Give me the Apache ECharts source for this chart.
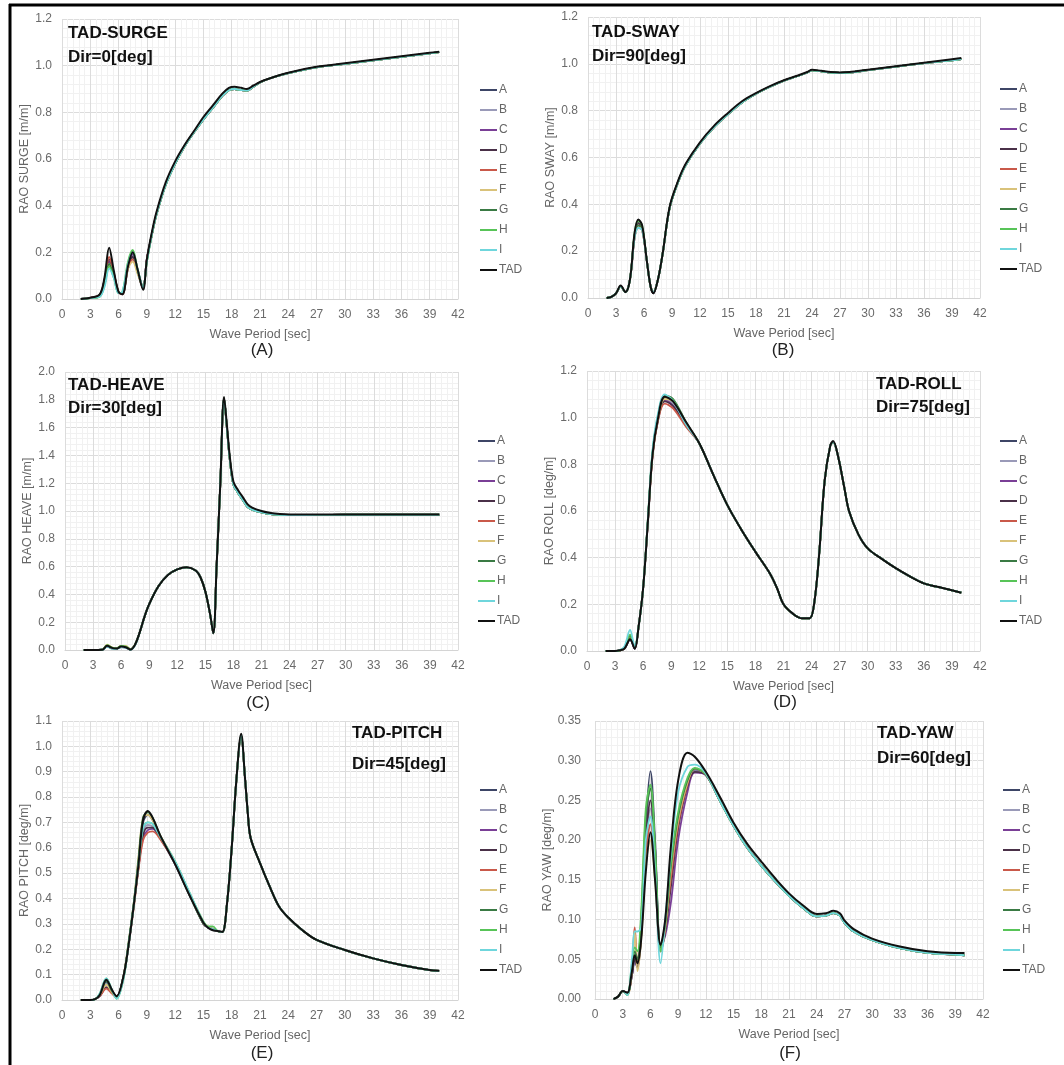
<!DOCTYPE html>
<html>
<head>
<meta charset="utf-8">
<script src="https://cdn.jsdelivr.net/npm/echarts@6/dist/echarts.min.js"></script>
<style>html,body{margin:0;padding:0;background:#fff}#c{width:1064px;height:1065px}</style>
</head>
<body>
<div id="c"></div>
<script>
// ---------- DATA ----------
const seriesNames = ['A','B','C','D','E','F','G','H','I','TAD'];
const xTickInterval = 3;

// (A) SURGE, Dir=0
const surgeX = [2,3,4,4.5,5,5.5,6,6.4,7,7.5,8,8.6,9, 9.5,10,11,12,13,14,15,16,17,17.7,18.3,19,19.6,20.3,21,22,24,27,30,33,36,39,40];
const surgeTAD = [0,0.005,0.02,0.09,0.22,0.12,0.03,0.02,0.14,0.20,0.13,0.04,0.17, 0.28,0.37,0.5,0.59,0.66,0.72,0.78,0.83,0.88,0.905,0.91,0.905,0.9,0.915,0.93,0.945,0.97,0.995,1.01,1.025,1.04,1.055,1.06];
const surgeTail = [0.27,0.36,0.49,0.58,0.655,0.715,0.77,0.82,0.87,0.895,0.9,0.895,0.893,0.91,0.928,0.945,0.968,0.993,1.008,1.023,1.038,1.053,1.058];
const surgeHeads = [
  [0,0.005,0.015,0.07,0.16,0.10,0.03,0.025,0.13,0.18,0.12,0.05,0.17],
  [0,0.005,0.015,0.07,0.15,0.10,0.03,0.025,0.14,0.17,0.12,0.05,0.17],
  [0,0.005,0.015,0.08,0.16,0.10,0.03,0.025,0.14,0.19,0.12,0.05,0.17],
  [0,0.005,0.018,0.08,0.17,0.11,0.03,0.02,0.14,0.18,0.12,0.045,0.17],
  [0,0.005,0.018,0.08,0.18,0.11,0.03,0.02,0.13,0.17,0.12,0.045,0.17],
  [0,0.004,0.012,0.06,0.15,0.10,0.03,0.025,0.13,0.16,0.11,0.05,0.16],
  [0,0.004,0.012,0.06,0.15,0.10,0.03,0.025,0.15,0.20,0.13,0.05,0.16],
  [0,0.004,0.01,0.06,0.14,0.09,0.025,0.03,0.16,0.21,0.13,0.05,0.16],
  [0,0.004,0.01,0.05,0.13,0.09,0.025,0.03,0.15,0.20,0.13,0.05,0.16]
];

// (B) SWAY, Dir=90
const swayX = [2,2.5,3,3.5,4,4.5,5,5.4,5.8,6.3,6.7,7,7.5, 8,8.75,9.65,10.5,12,13.5,15,16.5,18,19.5,21,22.5,23.5,24,25,26,27,28,30,33,36,39,40];
const swayTAD = [0,0.005,0.02,0.053,0.025,0.08,0.28,0.335,0.31,0.16,0.05,0.02,0.08, 0.19,0.39,0.5,0.575,0.665,0.735,0.79,0.84,0.875,0.905,0.93,0.95,0.965,0.975,0.97,0.965,0.963,0.965,0.975,0.99,1.005,1.02,1.025];
const swayTail = [0.19,0.385,0.495,0.57,0.66,0.73,0.785,0.835,0.872,0.902,0.928,0.948,0.963,0.972,0.968,0.963,0.961,0.963,0.973,0.988,1.003,1.015,1.02];
const swayHeads = [
  [0,0.005,0.02,0.05,0.025,0.08,0.27,0.32,0.30,0.16,0.05,0.02,0.08],
  [0,0.005,0.02,0.05,0.025,0.08,0.26,0.31,0.30,0.16,0.05,0.025,0.08],
  [0,0.005,0.02,0.05,0.025,0.08,0.26,0.30,0.29,0.16,0.05,0.025,0.08],
  [0,0.005,0.02,0.05,0.025,0.08,0.27,0.32,0.30,0.16,0.05,0.02,0.08],
  [0,0.005,0.02,0.05,0.025,0.08,0.26,0.31,0.29,0.16,0.05,0.025,0.08],
  [0,0.005,0.02,0.05,0.025,0.08,0.26,0.30,0.29,0.16,0.05,0.025,0.08],
  [0,0.005,0.02,0.05,0.025,0.08,0.27,0.31,0.30,0.16,0.05,0.025,0.08],
  [0,0.005,0.02,0.05,0.025,0.08,0.28,0.33,0.31,0.16,0.05,0.025,0.08],
  [0,0.005,0.02,0.05,0.025,0.08,0.26,0.30,0.29,0.16,0.05,0.025,0.08]
];

// (C) HEAVE, Dir=30
const heaveX = [2,3,4,4.5,5,5.5,6,6.5,7,7.5, 8,8.5,9,10,11,12,13,14,14.5,15,15.5,15.85,16.2,16.6,17,17.3,17.6,18,18.5,19,19.5,20,21,22,23,24,27,30,33,36,40];
const heaveTAD = [0,0,0.002,0.03,0.015,0.01,0.025,0.02,0.003,0.04, 0.13,0.24,0.33,0.46,0.54,0.58,0.595,0.57,0.52,0.42,0.26,0.12,0.6,1.2,1.82,1.62,1.4,1.21,1.15,1.1,1.05,1.025,1.0,0.985,0.978,0.975,0.975,0.975,0.975,0.975,0.975];
const heaveTail = [0.13,0.24,0.33,0.46,0.54,0.58,0.595,0.57,0.52,0.42,0.26,0.12,0.6,1.2,1.81,1.6,1.38,1.19,1.13,1.08,1.03,1.01,0.99,0.978,0.972,0.97,0.972,0.973,0.973,0.973,0.973];
const heaveHeads = [
  [0,0,0.002,0.025,0.012,0.01,0.02,0.02,0.003,0.04],
  [0,0,0.002,0.03,0.015,0.01,0.025,0.02,0.004,0.04],
  [0,0,0.002,0.025,0.015,0.01,0.02,0.015,0.003,0.04],
  [0,0,0.002,0.03,0.012,0.01,0.025,0.02,0.003,0.04],
  [0,0,0.003,0.035,0.018,0.012,0.03,0.025,0.005,0.04],
  [0,0,0.003,0.038,0.02,0.012,0.03,0.03,0.006,0.04],
  [0,0,0.002,0.03,0.015,0.01,0.025,0.02,0.003,0.04],
  [0,0,0.003,0.035,0.018,0.012,0.03,0.025,0.005,0.04],
  [0,0,0.002,0.025,0.01,0.008,0.02,0.015,0.002,0.035]
];

// (D) ROLL, Dir=75
const rollX = [2,3,3.5,4,4.6,5.1,5.5,6,6.5,7,7.6,8.3,9.2,10.6, 12,13.5,15,16.5,18,19.5,20.3,21,22,23,23.8,24.3,24.8,25.4,26,26.3,26.8,27.5,28,29,30,31.5,33,34.5,36,38,40];
const rollTAD = [0,0,0.003,0.01,0.05,0.01,0.1,0.27,0.55,0.84,1.0,1.09,1.07,0.98, 0.89,0.755,0.625,0.52,0.425,0.335,0.27,0.2,0.16,0.14,0.14,0.21,0.41,0.73,0.88,0.9,0.84,0.7,0.6,0.5,0.44,0.395,0.355,0.32,0.29,0.27,0.25];
const rollTail = [0.89,0.755,0.625,0.52,0.425,0.335,0.27,0.2,0.16,0.14,0.14,0.21,0.41,0.73,0.88,0.895,0.84,0.7,0.6,0.5,0.44,0.395,0.355,0.32,0.29,0.27,0.25];
const rollHeads = [
  [0,0,0.003,0.01,0.05,0.01,0.1,0.27,0.55,0.84,1.0,1.08,1.06,0.97],
  [0,0,0.003,0.01,0.055,0.012,0.1,0.27,0.55,0.84,1.0,1.08,1.06,0.97],
  [0,0,0.003,0.01,0.05,0.01,0.1,0.27,0.55,0.84,1.0,1.075,1.05,0.965],
  [0,0,0.003,0.01,0.05,0.01,0.1,0.27,0.55,0.84,0.99,1.07,1.05,0.965],
  [0,0,0.003,0.012,0.06,0.012,0.1,0.27,0.55,0.83,0.99,1.06,1.04,0.96],
  [0,0,0.003,0.012,0.065,0.015,0.1,0.27,0.55,0.84,1.0,1.08,1.07,0.975],
  [0,0,0.003,0.012,0.065,0.015,0.1,0.27,0.56,0.85,1.01,1.095,1.08,0.98],
  [0,0,0.003,0.015,0.07,0.015,0.1,0.27,0.56,0.85,1.01,1.09,1.075,0.975],
  [0,0,0.004,0.02,0.09,0.02,0.1,0.27,0.56,0.86,1.02,1.1,1.07,0.97]
];

// (E) PITCH, Dir=45
const pitchX = [2,3,3.5,4,4.7,5.3,5.8,6.5,7,7.6,8.1,8.6,9.1,9.6,10.4,12,13.5,15,15.5,16, 16.5,17,17.5,18,18.5,19,19.4,19.7,20,21,22,23,24,25.5,27,30,33,36,39,40];
const pitchTAD = [0,0,0.003,0.02,0.08,0.04,0.015,0.09,0.2,0.37,0.53,0.71,0.745,0.72,0.65,0.535,0.415,0.305,0.285,0.275, 0.272,0.268,0.38,0.6,0.87,1.05,0.88,0.74,0.64,0.54,0.45,0.37,0.325,0.275,0.237,0.197,0.164,0.138,0.118,0.115];
const pitchTail = [0.272,0.268,0.38,0.6,0.87,1.045,0.88,0.74,0.64,0.54,0.45,0.37,0.325,0.275,0.237,0.197,0.164,0.138,0.118,0.115];
const pitchHeads = [
  [0,0,0.003,0.02,0.07,0.035,0.012,0.09,0.2,0.37,0.53,0.7,0.73,0.71,0.645,0.535,0.415,0.305,0.285,0.275],
  [0,0,0.003,0.02,0.065,0.03,0.012,0.09,0.2,0.37,0.52,0.66,0.69,0.685,0.64,0.535,0.415,0.3,0.285,0.28],
  [0,0,0.003,0.015,0.05,0.03,0.012,0.09,0.2,0.37,0.52,0.64,0.67,0.675,0.64,0.54,0.42,0.3,0.285,0.28],
  [0,0,0.003,0.015,0.05,0.03,0.012,0.09,0.2,0.37,0.52,0.65,0.68,0.68,0.64,0.54,0.42,0.3,0.285,0.28],
  [0,0,0.003,0.015,0.045,0.025,0.01,0.085,0.2,0.36,0.51,0.63,0.66,0.665,0.635,0.54,0.42,0.3,0.285,0.28],
  [0,0,0.003,0.02,0.06,0.03,0.01,0.09,0.21,0.38,0.56,0.72,0.73,0.71,0.65,0.545,0.42,0.305,0.29,0.28],
  [0,0,0.003,0.02,0.075,0.035,0.012,0.09,0.21,0.38,0.55,0.72,0.74,0.72,0.65,0.54,0.415,0.3,0.285,0.278],
  [0,0,0.003,0.025,0.085,0.04,0.005,0.08,0.2,0.37,0.53,0.68,0.7,0.695,0.645,0.545,0.425,0.31,0.29,0.29],
  [0,0,0.003,0.025,0.085,0.04,0.005,0.08,0.2,0.37,0.53,0.68,0.7,0.695,0.645,0.545,0.425,0.305,0.285,0.28]
];

// (F) YAW, Dir=60
const yawX = [2,2.5,3,3.5,4,4.3,4.6,5,5.5,6,6.5,7.1,7.6,8.2,9,10,10.8,12, 13.5,15,16.5,18,19.5,21,22.5,24,25,25.8,26.5,27,28,30,33,36,39,40];
const yawTAD = [0,0.003,0.01,0.008,0.035,0.055,0.045,0.075,0.16,0.21,0.15,0.068,0.1,0.19,0.275,0.31,0.305,0.286, 0.255,0.222,0.195,0.173,0.152,0.133,0.118,0.107,0.108,0.111,0.108,0.099,0.088,0.076,0.066,0.06,0.058,0.058];
const yawTail = [0.25,0.218,0.19,0.168,0.148,0.13,0.115,0.104,0.105,0.108,0.105,0.096,0.085,0.074,0.064,0.058,0.056,0.055];
const yawHeads = [
  [0,0.003,0.01,0.008,0.03,0.05,0.045,0.09,0.22,0.287,0.2,0.065,0.09,0.15,0.22,0.27,0.288,0.282],
  [0,0.003,0.01,0.006,0.03,0.045,0.04,0.08,0.19,0.24,0.17,0.06,0.09,0.15,0.22,0.27,0.287,0.282],
  [0,0.003,0.01,0.006,0.03,0.05,0.04,0.085,0.21,0.27,0.19,0.065,0.08,0.12,0.2,0.26,0.285,0.282],
  [0,0.003,0.01,0.006,0.03,0.05,0.04,0.08,0.2,0.25,0.18,0.06,0.085,0.14,0.215,0.268,0.286,0.282],
  [0,0.003,0.01,0.006,0.04,0.09,0.045,0.08,0.18,0.22,0.16,0.06,0.09,0.15,0.22,0.27,0.29,0.283],
  [0,0.003,0.01,0.005,0.035,0.085,0.035,0.075,0.17,0.2,0.15,0.06,0.09,0.16,0.225,0.272,0.29,0.283],
  [0,0.003,0.01,0.006,0.04,0.06,0.05,0.1,0.23,0.265,0.19,0.065,0.095,0.165,0.23,0.275,0.29,0.283],
  [0,0.003,0.01,0.005,0.045,0.065,0.06,0.11,0.24,0.27,0.19,0.06,0.095,0.17,0.235,0.278,0.291,0.283],
  [0,0.003,0.01,0.005,0.05,0.085,0.085,0.09,0.2,0.23,0.16,0.045,0.1,0.18,0.26,0.292,0.295,0.284]
];

const panelTitles = ['TAD-SURGE','TAD-SWAY','TAD-HEAVE','TAD-ROLL','TAD-PITCH','TAD-YAW'];
const panelDirs = ['Dir=0[deg]','Dir=90[deg]','Dir=30[deg]','Dir=75[deg]','Dir=45[deg]','Dir=60[deg]'];
const panelCaptions = ['(A)','(B)','(C)','(D)','(E)','(F)'];
const yNames = ['RAO SURGE [m/m]','RAO SWAY [m/m]','RAO HEAVE [m/m]','RAO ROLL [deg/m]','RAO PITCH [deg/m]','RAO YAW [deg/m]'];
const yMax = [1.2,1.2,2.0,1.2,1.1,0.35];
const yStep = [0.2,0.2,0.2,0.2,0.1,0.05];
const yDecimals = [1,1,1,1,1,2];

// ---------- STYLE / LAYOUT ----------
const lineColors = ['#3d4566','#9a9ab8','#7a3f96','#4a3048','#c9594a','#d9c27a','#3a7a44','#58c458','#6fd6dc','#111111'];
const FONT = 'Liberation Sans, Arial, sans-serif';
const grids = [
  {left:62, top:19, width:396, height:280},
  {left:588, top:17, width:392, height:281},
  {left:65, top:372, width:393, height:278},
  {left:587, top:371, width:393, height:280},
  {left:62, top:721, width:396, height:279},
  {left:595, top:721, width:388, height:278}
];
const legendPos = [[480,83],[1000,82],[478,434],[1000,434],[480,783],[1003,783]];
const titlePos = [[68,33,57],[592,32,56],[68,385,408],[876,384,407],[352,733,764],[877,733,758]];
const captionPos = [[262,350],[783,350],[258,703],[785,702],[262,1053],[790,1053]];
const yNameGap = [31,30,30,31,29,39];
const yLabelMargin = [10,10,10,10,10,14];

const panels = [
  [surgeX, surgeTAD, surgeHeads, surgeTail],
  [swayX, swayTAD, swayHeads, swayTail],
  [heaveX, heaveTAD, heaveHeads, heaveTail],
  [rollX, rollTAD, rollHeads, rollTail],
  [pitchX, pitchTAD, pitchHeads, pitchTail],
  [yawX, yawTAD, yawHeads, yawTail]
];

const xAxes = [], yAxes = [], series = [], legends = [], graphics = [];
panels.forEach((p, pi) => {
  const [xs, tad, heads, tail] = p;
  xAxes.push({
    type:'value', gridIndex:pi, min:0, max:42, interval:xTickInterval,
    name:'Wave Period [sec]', nameLocation:'middle', nameGap:29,
    nameTextStyle:{color:'#666', fontSize:12.5, fontFamily:FONT},
    axisLine:{show:true, lineStyle:{color:'#d4d4d4'}}, axisTick:{show:false},
    axisLabel:{color:'#6a6a6a', fontSize:12, margin:10, fontFamily:FONT},
    splitLine:{show:true, lineStyle:{color:'#dcdcdc', width:1}},
    minorTick:{show:false, splitNumber:5},
    minorSplitLine:{show:true, lineStyle:{color:'#f1f1f1', width:1}}
  });
  yAxes.push({
    type:'value', gridIndex:pi, min:0, max:yMax[pi], interval:yStep[pi],
    name:yNames[pi], nameLocation:'middle', nameGap:yNameGap[pi], nameRotate:90,
    nameTextStyle:{color:'#666', fontSize:12.5, fontFamily:FONT},
    axisLine:{show:false}, axisTick:{show:false},
    axisLabel:{color:'#6a6a6a', fontSize:12, margin:yLabelMargin[pi], fontFamily:FONT,
      formatter:v => v.toFixed(yDecimals[pi])},
    splitLine:{show:true, lineStyle:{color:'#dcdcdc', width:1}},
    minorTick:{show:false, splitNumber:5},
    minorSplitLine:{show:true, lineStyle:{color:'#f1f1f1', width:1}}
  });
  seriesNames.forEach((n, si) => {
    const ys = n === 'TAD' ? tad : heads[si].concat(tail);
    series.push({
      name:n, type:'line', xAxisIndex:pi, yAxisIndex:pi,
      data: xs.map((x, k) => [x, ys[k]]),
      showSymbol:false, smooth:0.35,
      lineStyle:{color:lineColors[si], width: n === 'TAD' ? 2 : 1.8},
      itemStyle:{color:lineColors[si]},
      z: n === 'TAD' ? 5 : 3
    });
  });
  legends.push({
    orient:'vertical', left:legendPos[pi][0], top:legendPos[pi][1],
    icon:'rect', itemWidth:17, itemHeight:2, itemGap:6, selectedMode:false,
    data:seriesNames, padding:0,
    textStyle:{color:'#666', fontSize:12, lineHeight:14, fontFamily:FONT, padding:[0,0,0,-3]}
  });
  const tp = titlePos[pi];
  [[panelTitles[pi], tp[1]], [panelDirs[pi], tp[2]]].forEach(([t, y]) => {
    graphics.push({type:'text', x:tp[0], y:y, z:100,
      style:{text:t, font:'bold 17px ' + FONT, fill:'#111',
        textAlign:'left', align:'left', textVerticalAlign:'middle', verticalAlign:'middle'}});
  });
  graphics.push({type:'text', x:captionPos[pi][0], y:captionPos[pi][1], z:100,
    style:{text:panelCaptions[pi], font:'17px ' + FONT, fill:'#222',
      textAlign:'center', align:'center', textVerticalAlign:'middle', verticalAlign:'middle'}});
});
graphics.push({type:'line', z:100, shape:{x1:9, y1:5, x2:1064, y2:5}, style:{stroke:'#000', lineWidth:3}});
graphics.push({type:'line', z:100, shape:{x1:10, y1:4, x2:10, y2:1065}, style:{stroke:'#000', lineWidth:3}});

const chart = echarts.init(document.getElementById('c'), null, {renderer:'canvas'});
chart.setOption({
  animation:false,
  backgroundColor:'#fff',
  textStyle:{fontFamily:FONT},
  grid:grids,
  xAxis:xAxes,
  yAxis:yAxes,
  legend:legends,
  series:series,
  graphic:{elements:graphics}
});
</script>
</body>
</html>
